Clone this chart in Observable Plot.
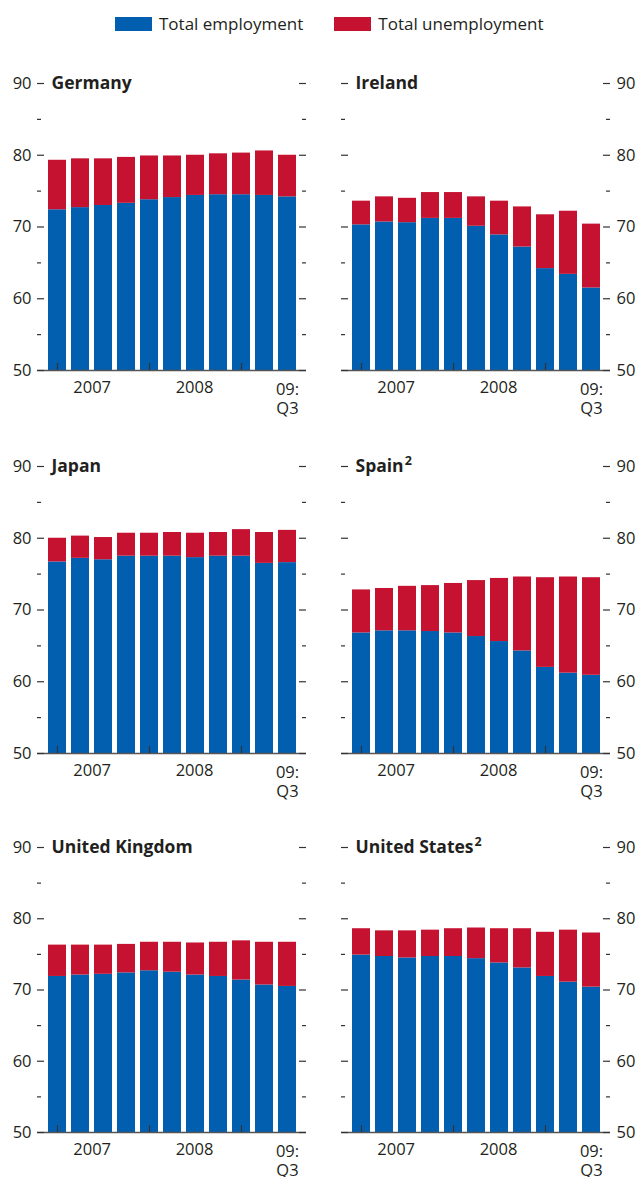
<!DOCTYPE html>
<html><head><meta charset="utf-8">
<script src="https://cdn.jsdelivr.net/npm/d3@7"></script>
<script src="https://cdn.jsdelivr.net/npm/@observablehq/plot@0.6"></script>
<style>
html,body{margin:0;padding:0;background:#fff;overflow:hidden;}
body{width:638px;height:1177px;position:relative;font-family:"Open Sans",sans-serif;color:#231f20;}
#legend{position:absolute;left:115px;top:14px;display:flex;align-items:center;font-size:17px;line-height:20px;}
#legend .item{display:flex;align-items:center;margin-right:31px;}
#legend .sw{width:37px;height:14px;margin-right:7px;}
.panel{position:absolute;}
</style></head><body>
<div id="legend"></div>
<div id="charts"></div>
<script>
// ---- data ----
const quarters = ["2007 Q1","2007 Q2","2007 Q3","2007 Q4","2008 Q1","2008 Q2","2008 Q3","2008 Q4","2009 Q1","2009 Q2","2009 Q3"];
const series = ["Total employment","Total unemployment"];
const colors = ["#025eaf","#c41230"];
const countries = ["Germany","Ireland","Japan","Spain","United Kingdom","United States"];
const notes = ["","","","2","","2"];
const yTicksMajor = [50,60,70,80,90];
const yTicksMinor = [55,65,75,85];
const xTickQuarters = ["2007 Q1","2008 Q1","2009 Q1"];
const yearLabels = ["2007","2008","09:\nQ3"];
const yearLabelQuarters = ["2007 Q2","2008 Q3","2009 Q3"];

const germanyEmployment   = [72.4,72.7,73.0,73.3,73.8,74.1,74.4,74.5,74.5,74.4,74.2];
const germanyUnemployment = [6.9,6.8,6.5,6.4,6.1,5.8,5.6,5.7,5.8,6.2,5.8];
const irelandEmployment   = [70.3,70.7,70.6,71.2,71.2,70.1,68.9,67.2,64.2,63.4,61.5];
const irelandUnemployment = [3.3,3.5,3.4,3.6,3.6,4.1,4.7,5.6,7.5,8.8,8.9];
const japanEmployment     = [76.7,77.2,77.0,77.5,77.5,77.5,77.3,77.5,77.5,76.5,76.6];
const japanUnemployment   = [3.3,3.1,3.1,3.2,3.2,3.3,3.4,3.3,3.7,4.3,4.5];
const spainEmployment     = [66.8,67.1,67.1,67.0,66.8,66.3,65.6,64.3,62.0,61.2,60.9];
const spainUnemployment   = [6.0,5.9,6.2,6.4,6.9,7.8,8.8,10.3,12.5,13.4,13.6];
const ukEmployment        = [71.9,72.1,72.2,72.4,72.7,72.5,72.1,71.9,71.4,70.7,70.5];
const ukUnemployment      = [4.4,4.2,4.1,4.0,4.0,4.2,4.5,4.8,5.5,6.0,6.2];
const usEmployment        = [74.9,74.7,74.5,74.7,74.7,74.4,73.8,73.1,71.9,71.1,70.4];
const usUnemployment      = [3.7,3.6,3.8,3.7,3.9,4.3,4.8,5.5,6.2,7.3,7.6];

const employmentByPanel = [germanyEmployment, irelandEmployment, japanEmployment, spainEmployment, ukEmployment, usEmployment];
const unemploymentByPanel = [germanyUnemployment, irelandUnemployment, japanUnemployment, spainUnemployment, ukUnemployment, usUnemployment];

// ---- legend ----
const legend = d3.select("#legend");
series.forEach((s, i) => {
  const it = legend.append("div").attr("class", "item");
  it.append("div").attr("class", "sw").style("background", colors[i]);
  it.append("span").text(s);
});

// ---- panels ----
const tickColor = "#333";
const rowTops = [60, 443, 824];
function makePanel(i) {
  const name = countries[i];
  const emp = employmentByPanel[i], un = unemploymentByPanel[i];
  const rows = quarters.flatMap((q, j) => [
    {quarter: q, series: series[0], value: emp[j]},
    {quarter: q, series: series[1], value: un[j]}
  ]);
  const left = i % 2 === 0;
  const lastRow = i >= 4;
  const W = 319, H = lastRow ? 353 : 382;
  const mL = left ? 37 : 22, mR = left ? 13 : 28, mT = 23, fh = lastRow ? 285 : 287;
  const fw = W - mL - mR;
  const mB = H - mT - fh;
  const svg = Plot.plot({
    width: W, height: H,
    marginLeft: mL, marginRight: mR, marginTop: mT, marginBottom: mB,
    style: {fontFamily: '"Open Sans", sans-serif', color: "#231f20", background: "transparent"},
    x: {type: "band", domain: quarters, paddingInner: 0.2275, paddingOuter: 0.386, axis: null},
    y: {domain: [50, 90]},
    color: {domain: series, range: colors},
    marks: [
      Plot.barY(rows, {x: "quarter", y: "value", fill: "series", clip: true}),
      Plot.ruleY([50], {stroke: "#555", strokeWidth: 1.5}),
      Plot.tickY(yTicksMajor, {y: d => d, insetRight: fw - 7, stroke: tickColor, strokeWidth: 1.2}),
      Plot.tickY(yTicksMajor, {y: d => d, insetLeft: fw - 7, stroke: tickColor, strokeWidth: 1.2}),
      Plot.tickY(yTicksMinor, {y: d => d, insetRight: fw - 4, stroke: tickColor, strokeWidth: 1.2}),
      Plot.tickY(yTicksMinor, {y: d => d, insetLeft: fw - 4, stroke: tickColor, strokeWidth: 1.2}),
      Plot.tickX(xTickQuarters, {x: d => d, insetTop: fh - 7, stroke: tickColor, strokeWidth: 1.2}),
      Plot.axisY(yTicksMajor, {anchor: left ? "left" : "right", tickSize: 0, tickPadding: 6, fontSize: 16.5, fill: "#231f20", label: null}),
      Plot.text([yearLabels[0]], {x: () => yearLabelQuarters[0], frameAnchor: "bottom", lineAnchor: "top", dy: 11, dx: 11.65, fontSize: 16.5, fill: "#231f20"}),
      Plot.text([yearLabels[1]], {x: () => yearLabelQuarters[1], frameAnchor: "bottom", lineAnchor: "top", dy: 11, dx: -1, fontSize: 16.5, fill: "#231f20"}),
      Plot.text([yearLabels[2]], {x: () => yearLabelQuarters[2], frameAnchor: "bottom", lineAnchor: "top", dy: 11, fontSize: 16.5, lineHeight: 1.15, fill: "#231f20"}),
      Plot.text([name], {frameAnchor: "top-left", dx: 14, lineAnchor: "middle", textAnchor: "start", fontWeight: "bold", fontSize: 17.5, fill: "#231f20"})
    ]
  });
  if (notes[i]) {
    d3.select(svg).selectAll("text").filter(function() { return this.textContent === name; })
      .append("tspan").attr("dy", "-0.55em").attr("dx", 1).attr("font-size", 12.5).text(notes[i]);
  }
  const div = document.createElement("div");
  div.className = "panel";
  div.style.left = (left ? 0 : 319) + "px";
  div.style.top = rowTops[Math.floor(i / 2)] + "px";
  div.appendChild(svg);
  document.getElementById("charts").appendChild(div);
}
countries.forEach((_, i) => makePanel(i));
</script>
</body></html>
